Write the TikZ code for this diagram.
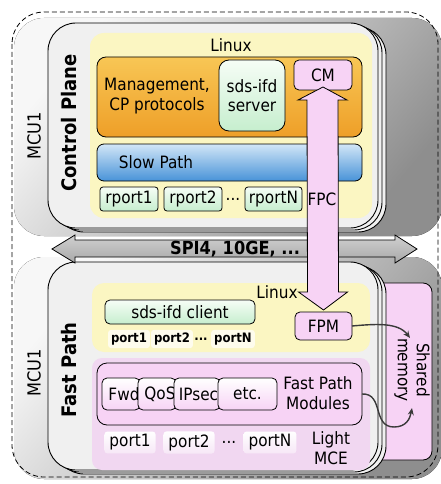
\documentclass[tikz,border=0pt]{standalone}
\usepackage{fontspec}
\setmainfont{DejaVu Sans}[FakeStretch=0.9]
\usetikzlibrary{calc,arrows.meta}

\newcommand\fsz[2]{\fontsize{#1}{#2}\selectfont}

\definecolor{shadelight}{HTML}{F7F7F7}
\definecolor{shadedark}{HTML}{8E8E8E}
\definecolor{cardfill}{HTML}{F0F0F0}
\definecolor{linuxyel}{HTML}{FBF6C2}
\definecolor{orangetop}{HTML}{F8C655}
\definecolor{orangebot}{HTML}{EE9F28}
\definecolor{greentop}{HTML}{F6FDF6}
\definecolor{greenbot}{HTML}{C6EECE}
\definecolor{bluetop}{HTML}{D2E6F7}
\definecolor{bluebot}{HTML}{4893D8}
\definecolor{pinkbox}{HTML}{F7D3F5}
\definecolor{mcepink}{HTML}{F1D7F1}
\definecolor{barlight}{HTML}{D0D0D0}
\definecolor{bardark}{HTML}{A8A8A8}
\definecolor{wire}{HTML}{3A3A3A}

\begin{document}
\begin{tikzpicture}[x=1pt,y=-1pt,
  every node/.style={inner sep=0pt, outer sep=0pt},
  txt/.style={font=\fsz{17}{19.5}, align=center},
  bigtitle/.style={font=\bfseries\fsz{20}{22}, rotate=90},
  mcu/.style={font=\fsz{18}{20}, rotate=90},
  card/.style={draw=black, line width=0.9pt, fill=cardfill, rounded corners=28pt},
  region/.style={rounded corners=14pt},
  box/.style={draw=black, line width=0.8pt, rounded corners=6pt},
  greenbox/.style={box, top color=greentop, bottom color=greenbot},
  pinkbox/.style={box, fill=pinkbox},
  modbox/.style={box, top color=white, bottom color=pinkbox, rounded corners=5pt},
  smallport/.style={font=\bfseries\fsz{13}{15}, fill=white!70!linuxyel, rounded corners=3pt, inner xsep=3pt, inner ysep=3pt},
  mceport/.style={font=\fsz{17}{19}, top color=white, bottom color=white!40!mcepink, rounded corners=3pt, inner xsep=5pt, inner ysep=3pt},
  conn/.style={draw=wire, line width=1.4pt, -{Stealth[length=7pt,width=6pt]}}
]
\useasboundingbox (0,0) rectangle (440,484);

% grey drop-shadow areas behind the two boards
\fill[top color=shadelight, bottom color=shadedark, shading angle=50, rounded corners=30pt]
  (14,18) rectangle (442,236);
\fill[top color=shadelight, bottom color=shadedark, shading angle=50, rounded corners=30pt]
  (14,257) rectangle (442,479);

% dashed MCU boundary
\draw[dash pattern=on 5pt off 3pt, line width=0.8pt, rounded corners=32pt] (12,12) rectangle (438,477);

% shared memory sits behind the fast path board
\node[pinkbox, rounded corners=9pt, minimum width=60pt, minimum height=177pt] (shm) at (402,371.5) {};

% stacked boards
\foreach \d in {8,4} {
  \node[card, minimum width=330pt, minimum height=205pt] (cpback\d) at ($(213,125.5)+(\d,\d/2)$) {};
  \node[card, minimum width=330pt, minimum height=208pt] (fpback\d) at ($(213,366)+(\d,\d/2)$) {};
}
\node[card, minimum width=330pt, minimum height=205pt] (cp) at (213,125.5) {};
\node[card, minimum width=330pt, minimum height=208pt] (fp) at (213,366) {};

% ---------- control plane ----------
\node[region, fill=linuxyel, minimum width=282pt, minimum height=185pt] (lin1) at (231,125.5) {};
\node[txt] (lnx1) at (231,45) {Linux};
\node[box, top color=orangetop, bottom color=orangebot, rounded corners=9pt,
      minimum width=265pt, minimum height=80pt] (mgmt) at (229.5,97) {};
\node[txt] (mgmttxt) at (157,96) {Management,\\CP protocols};
\node[greenbox, rounded corners=10pt, minimum width=66pt, minimum height=71pt, txt] (srv) at (252,95.5) {sds-ifd\\server};
\node[pinkbox, rounded corners=5pt, minimum width=58pt, minimum height=30pt, txt] (cm) at (323,75) {CM};
\node[box, top color=bluetop, bottom color=bluebot, rounded corners=7pt,
      minimum width=265pt, minimum height=37pt] (slow) at (229.5,162.5) {};
\node[txt] (slowtxt) at (156,162) {Slow Path};
\node[greenbox, rounded corners=3pt, minimum width=58pt, minimum height=24pt, txt] (rp1) at (129,199) {rport1};
\node[greenbox, rounded corners=3pt, minimum width=58pt, minimum height=24pt, txt] (rp2) at (193,199) {rport2};
\node[txt] (rpdots) at (233,199) {...};
\node[greenbox, rounded corners=3pt, minimum width=57pt, minimum height=24pt, txt] (rpN) at (273.5,199) {rportN};

% ---------- fast path ----------
\node[region, rounded corners=12pt, fill=linuxyel, minimum width=278pt, minimum height=69pt] (lin2) at (231,317.5) {};
\node[txt] (lnx2) at (277,292) {Linux};
\node[greenbox, rounded corners=5pt, minimum width=150pt, minimum height=24pt, txt] (cli) at (180,312) {sds-ifd client};
\node[smallport] (sp1) at (129,339) {port1};
\node[smallport] (sp2) at (172,339) {port2};
\node[font=\bfseries\fsz{13}{15}] (spdots) at (201,339) {...};
\node[smallport] (spN) at (233,339) {portN};
\node[pinkbox, rounded corners=5pt, minimum width=57pt, minimum height=28pt, txt] (fpm) at (323.5,326) {FPM};

\node[region, rounded corners=10pt, fill=mcepink, minimum width=278pt, minimum height=112pt] (mce) at (231,414) {};
\node[box, fill=pinkbox, rounded corners=10pt, minimum width=265pt, minimum height=62pt] (mods) at (229.5,394) {};
% overlapping module cards, each one partly covering the one before
\node[modbox, minimum width=38pt, minimum height=32pt] (fwd) at (121,394) {};
\node[txt] (fwdtxt) at (124,394) {Fwd};
\node[modbox, minimum width=38pt, minimum height=32pt] (qos) at (157,394) {};
\node[txt] (qostxt) at (160,394) {QoS};
\node[modbox, minimum width=46pt, minimum height=32pt] (ipsec) at (197,394) {};
\node[txt] (ipsectxt) at (198.5,394) {IPsec};
\node[modbox, minimum width=59pt, minimum height=32pt, txt] (etc) at (247.5,394) {etc.};
\node[txt] (modtxt) at (318,393) {Fast Path\\Modules};
\node[mceport] (mp1) at (130,442.5) {port1};
\node[mceport] (mp2) at (189,442.5) {port2};
\node[font=\fsz{17}{19}] (mpdots) at (229,442.5) {...};
\node[mceport] (mpN) at (270,442.5) {portN};
\node[txt] (mcetxt) at (331,448) {Light\\MCE};

% ---------- SPI4 interconnect ----------
\coordinate (spiL) at (52,249);
\coordinate (spiR) at (417,249);
\draw[line width=0.8pt, top color=barlight, bottom color=bardark]
  (spiL) -- ($(spiL)+(23,-14)$) -- ($(spiL)+(23,-9)$) -- ($(spiR)+(-22,-9)$) -- ($(spiR)+(-22,-14)$)
  -- (spiR) -- ($(spiR)+(-22,14)$) -- ($(spiR)+(-22,8)$) -- ($(spiL)+(23,8)$) -- ($(spiL)+(23,14)$) -- cycle;
\node[font=\bfseries\fsz{18}{20}] (spi) at (235,249) {SPI4, 10GE, ...};

% ---------- FPC channel between CM and FPM ----------
\coordinate (fpcT) at ($(cm.south)+(0,-3)$);
\coordinate (fpcB) at ($(fpm.north)+(0,-2)$);
\draw[line width=0.8pt, fill=pinkbox]
  (fpcT) -- ($(fpcT)+(24,13)$) -- ($(fpcT)+(15,13)$) -- ($(fpcB)+(15,-18)$) -- ($(fpcB)+(24,-18)$)
  -- (fpcB) -- ($(fpcB)+(-25,-18)$) -- ($(fpcB)+(-16,-18)$) -- ($(fpcT)+(-16,13)$) -- ($(fpcT)+(-25,13)$) -- cycle;
\node[txt] (fpc) at (322,199) {FPC};

% ---------- shared memory accesses ----------
\coordinate (shmA) at (410,338);
\coordinate (shmB) at (412,408);
\draw[conn] (fpm.east) .. controls (375,324) and (398,322) .. (shmA);
\draw[conn] (mods.east) .. controls (384,393) and (372,427) .. (394,427) .. controls (406,427) and (410,419) .. (shmB);

% ---------- rotated labels ----------
\node[bigtitle] (cptitle) at (69,123) {Control Plane};
\node[bigtitle] (fptitle) at (69,370) {Fast Path};
\node[mcu] (mcu1a) at (34,136) {MCU1};
\node[mcu] (mcu1b) at (34,373) {MCU1};
\node[txt, rotate=-90, font=\fsz{17}{19}] (shmtxt) at (412,370) {Shared\\memory};
\end{tikzpicture}
\end{document}
